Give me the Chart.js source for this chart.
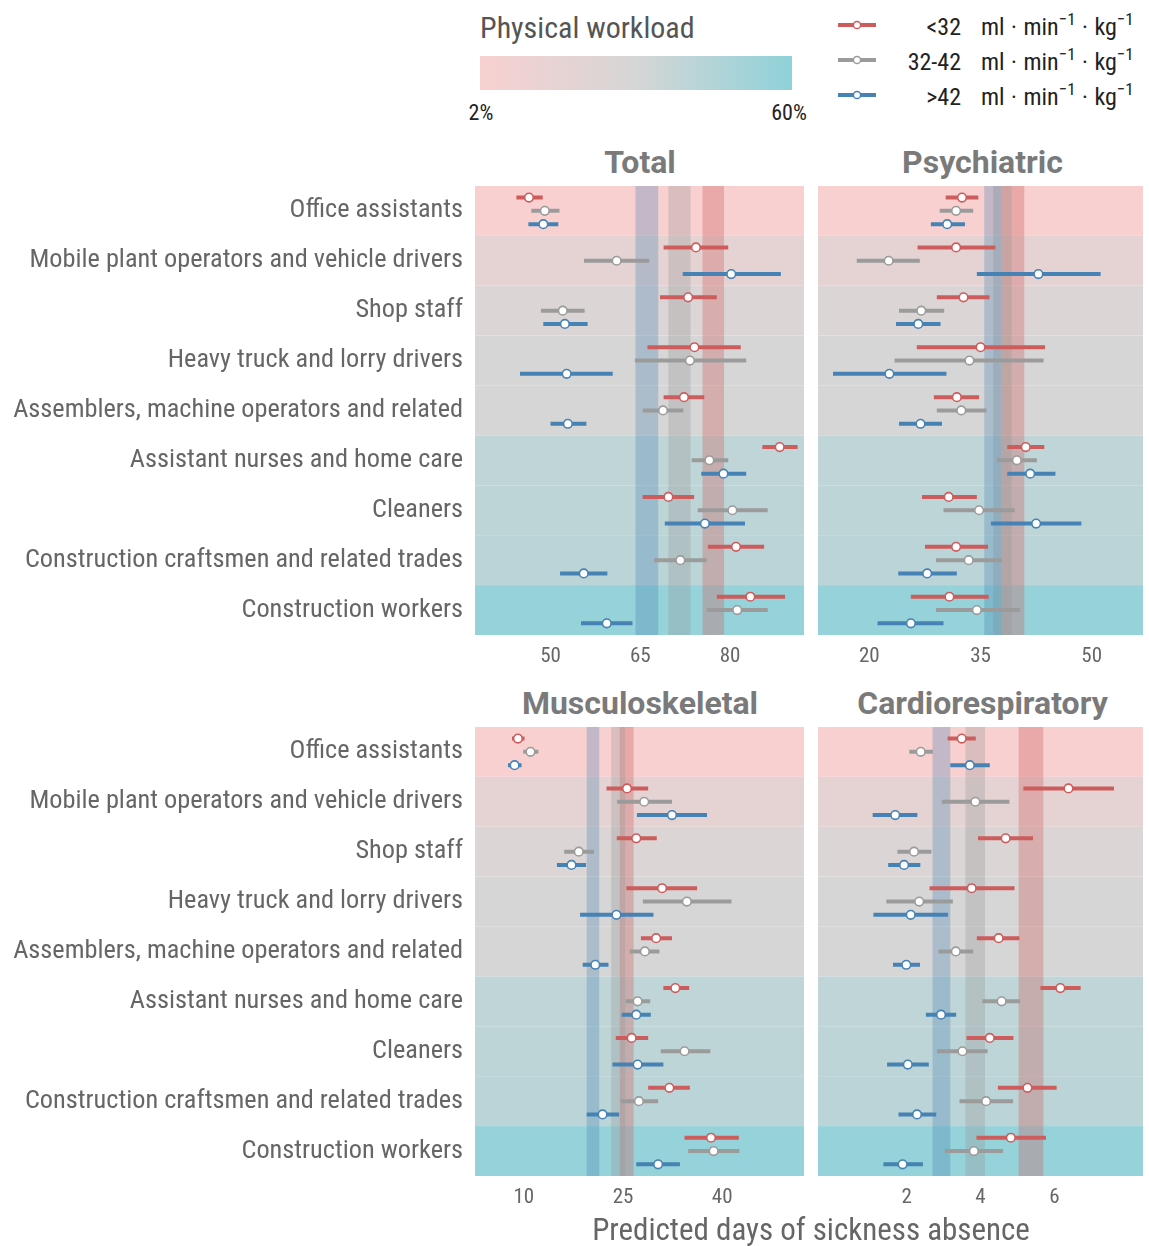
<!DOCTYPE html>
<html>
<head>
<meta charset="utf-8">
<script src="https://cdn.jsdelivr.net/npm/chart.js@4.4.1/dist/chart.umd.min.js"></script>
<style>
html,body{margin:0;padding:0;background:#fff;}
#root{position:relative;width:1149px;height:1246px;overflow:hidden;}
.t{position:absolute;white-space:nowrap;}
canvas{position:absolute;}
.ptitle{font-family:Roboto,"Liberation Sans",sans-serif;font-weight:bold;font-size:32px;color:#7a7a7a;text-align:center;width:330px;line-height:40px;}
.leg{font-size:24px;color:#222;line-height:30px;}
.sup{font-size:17px;position:relative;top:-10px;}
</style>
</head>
<body>
<div id="root">
  <div class="t" style="left:480px;top:9px;font-size:30px;color:#555;line-height:38px;">Physical workload</div>
  <div class="t" id="gradBar" style="left:480px;top:56px;width:312px;height:34px;"></div>
  <div class="t" style="left:459px;top:98px;width:44px;text-align:center;font-size:22px;color:#222;line-height:30px;">2%</div>
  <div class="t" style="left:762px;top:98px;width:54px;text-align:center;font-size:22px;color:#222;line-height:30px;">60%</div>
  <svg class="t" style="left:830px;top:0px;" width="60" height="120" id="legSvg"></svg>
  <div id="legText"></div>

  <div class="t ptitle" style="left:475px;top:142px;">Total</div>
  <div class="t ptitle" style="left:818px;top:142px;width:329px;">Psychiatric</div>
  <div class="t ptitle" style="left:475px;top:683px;">Musculoskeletal</div>
  <div class="t ptitle" style="left:818px;top:683px;width:329px;">Cardiorespiratory</div>

  <canvas id="cTL" width="810" height="500" style="left:0px;top:180px;"></canvas>
  <canvas id="cTR" width="337" height="500" style="left:812px;top:180px;"></canvas>
  <canvas id="cBL" width="810" height="500" style="left:0px;top:721px;"></canvas>
  <canvas id="cBR" width="337" height="500" style="left:812px;top:721px;"></canvas>

  <div class="t" id="axTitle" style="left:475px;top:1211px;width:672px;text-align:center;font-size:31px;color:#666;line-height:38px;">Predicted days of sickness absence</div>
</div>
<script>
// ---------------- DATA ----------------
const categories = [
  "Office assistants",
  "Mobile plant operators and vehicle drivers",
  "Shop staff",
  "Heavy truck and lorry drivers",
  "Assemblers, machine operators and related",
  "Assistant nurses and home care",
  "Cleaners",
  "Construction craftsmen and related trades",
  "Construction workers"
];
const workload = [2, 18, 26, 31, 30, 40, 41, 42, 57];   // physical workload (%)
const seriesNames = ["<32", "32-42", ">42"];

// Total
const totalTicks = [50, 65, 80];
const totalRed    = [46.4, 74.3, 73.0, 74.05, 72.3, 88.3, 69.7, 81.0, 83.4];
const totalRedLo  = [44.3, 68.9, 68.3, 66.2, 68.9, 85.4, 65.4, 76.3, 77.8];
const totalRedHi  = [48.7, 79.7, 77.8, 81.8, 75.7, 91.3, 74.0, 85.7, 89.2];
const totalGray   = [49.05, 61.05, 52.05, 73.3, 68.8, 76.55, 80.4, 71.7, 81.2];
const totalGrayLo = [46.8, 55.6, 48.4, 64.1, 65.4, 73.6, 74.6, 67.3, 76.1];
const totalGrayHi = [51.5, 66.5, 55.7, 82.7, 72.2, 79.7, 86.3, 76.1, 86.3];
const totalBlue   = [48.8, 80.2, 52.4, 52.7, 52.9, 78.9, 75.8, 55.55, 59.4];
const totalBlueLo = [46.3, 72.1, 48.8, 44.9, 50.0, 75.2, 69.1, 51.6, 55.1];
const totalBlueHi = [51.3, 88.5, 56.2, 60.4, 56.0, 82.7, 82.5, 59.5, 63.7];
const totalOverall = [[75.4, 79.0], [69.7, 73.4], [64.2, 68.0]];

// Psychiatric
const psychTicks = [20, 35, 50];
const psychRed    = [32.5, 31.7, 32.7, 35.0, 31.8, 41.1, 30.7, 31.7, 30.8];
const psychRedLo  = [30.3, 26.5, 29.1, 26.4, 28.7, 38.6, 27.1, 27.5, 25.6];
const psychRedHi  = [34.7, 37.0, 36.2, 43.7, 34.8, 43.6, 34.5, 36.0, 36.1];
const psychGray   = [31.7, 22.6, 27.0, 33.5, 32.4, 39.9, 34.8, 33.4, 34.5];
const psychGrayLo = [29.5, 18.3, 24.0, 23.4, 29.1, 37.2, 30.0, 29.0, 29.0];
const psychGrayHi = [34.0, 26.8, 30.1, 43.5, 35.8, 42.6, 39.6, 37.9, 40.3];
const psychBlue   = [30.5, 42.8, 26.6, 22.7, 26.9, 41.7, 42.5, 27.8, 25.6];
const psychBlueLo = [28.3, 34.5, 23.6, 15.1, 24.0, 38.6, 36.4, 23.9, 21.1];
const psychBlueHi = [32.9, 51.2, 29.6, 30.4, 29.8, 45.1, 48.6, 31.8, 30.0];
const psychOverall = [[37.8, 40.9], [36.7, 39.2], [35.5, 37.8]];

// Musculoskeletal
const muscTicks = [10, 25, 40];
const muscRed    = [9.1, 25.6, 27.0, 30.9, 30.0, 32.9, 26.3, 32.0, 38.3];
const muscRedLo  = [8.2, 22.5, 24.05, 25.5, 27.7, 31.1, 23.9, 28.8, 34.3];
const muscRedHi  = [10.1, 28.8, 30.1, 36.2, 32.4, 35.0, 28.8, 35.1, 42.5];
const muscGray   = [11.0, 28.2, 18.3, 34.65, 28.3, 27.2, 34.3, 27.4, 38.7];
const muscGrayLo = [9.9, 24.1, 16.1, 28.0, 26.0, 25.4, 30.7, 24.65, 34.85];
const muscGrayHi = [12.2, 32.4, 20.6, 41.4, 30.5, 29.1, 38.2, 30.3, 42.6];
const muscBlue   = [8.6, 32.4, 17.2, 24.0, 20.8, 27.0, 27.2, 21.9, 30.3];
const muscBlueLo = [7.6, 27.1, 15.0, 18.5, 18.9, 24.8, 23.4, 19.5, 27.0];
const muscBlueHi = [9.65, 37.7, 19.4, 29.6, 22.8, 29.2, 31.1, 24.4, 33.6];
const muscOverall = [[24.5, 26.6], [23.2, 25.3], [19.5, 21.4]];

// Cardiorespiratory
const cardioTicks = [2, 4, 6];
const cardioRed    = [3.49, 6.38, 4.68, 3.76, 4.49, 6.16, 4.25, 5.27, 4.82];
const cardioRedLo  = [3.11, 5.16, 3.93, 2.62, 3.90, 5.62, 3.62, 4.47, 3.89];
const cardioRedHi  = [3.87, 7.61, 5.42, 4.92, 5.05, 6.71, 4.89, 6.06, 5.77];
const cardioGray   = [2.38, 3.86, 2.20, 2.34, 3.33, 4.57, 3.51, 4.15, 3.82];
const cardioGrayLo = [2.07, 2.95, 1.75, 1.45, 2.86, 4.05, 2.82, 3.43, 3.03];
const cardioGrayHi = [2.71, 4.78, 2.67, 3.25, 3.80, 5.07, 4.19, 4.88, 4.61];
const cardioBlue   = [3.71, 1.69, 1.93, 2.11, 1.99, 2.93, 2.03, 2.28, 1.89];
const cardioBlueLo = [3.18, 1.08, 1.50, 1.10, 1.63, 2.52, 1.47, 1.78, 1.37];
const cardioBlueHi = [4.25, 2.29, 2.37, 3.12, 2.36, 3.34, 2.60, 2.80, 2.44];
const cardioOverall = [[5.03, 5.70], [3.59, 4.12], [2.70, 3.18]];

// ---------------- STYLE ----------------
const colors = ['#CD5C5C', '#9B9B9B', '#4682B4'];
const bandAlpha = ['rgba(205,92,92,0.33)', 'rgba(150,150,150,0.30)', 'rgba(70,130,180,0.30)'];
const gradStops = [[0, [248, 208, 208]], [0.5, [214, 214, 214]], [1, [142, 210, 217]]];
const rowOffset = [-0.267, 0, 0.267];

function workloadColor(p) {
  let t = Math.max(0, Math.min(1, (p - 2) / 58));
  for (let i = 0; i < gradStops.length - 1; i++) {
    const [t0, c0] = gradStops[i], [t1, c1] = gradStops[i + 1];
    if (t <= t1) {
      const f = (t - t0) / (t1 - t0);
      return 'rgb(' + c0.map((c, k) => Math.round(c + (c1[k] - c) * f)).join(',') + ')';
    }
  }
  return 'rgb(' + gradStops[gradStops.length - 1][1].join(',') + ')';
}
document.getElementById('gradBar').style.background =
  'linear-gradient(to right,' + gradStops.map(s => 'rgb(' + s[1].join(',') + ') ' + (s[0] * 100) + '%').join(',') + ')';

// ---------------- FONT ----------------
function hasFont(n) {
  const c = document.createElement('canvas').getContext('2d');
  const s = 'abcdefghijklmnopqrstuvwxyz ABCDEFGHIJKLM 0123456789';
  c.font = '40px monospace'; const a = c.measureText(s).width;
  c.font = '40px "' + n + '", monospace'; const b = c.measureText(s).width;
  c.font = '40px serif'; const d = c.measureText(s).width;
  c.font = '40px "' + n + '", serif'; const e = c.measureText(s).width;
  return a !== b || d !== e;
}
const FAMILY = ['Roboto Condensed', 'Liberation Sans Narrow', 'DejaVu Sans Condensed', 'Roboto'].find(hasFont) || 'sans-serif';
document.getElementById('root').style.fontFamily = '"' + FAMILY + '", sans-serif';
const mctx = document.createElement('canvas').getContext('2d');
mctx.font = '24px "' + FAMILY + '"';
const longW = mctx.measureText(categories[4]).width;
const labelSize = Math.max(17, Math.min(28, 24 * 450 / longW));
const tickSize = Math.round(labelSize * 0.8);

// ---------------- LEGEND ----------------
(function () {
  const svg = document.getElementById('legSvg');
  const ys = [25, 60, 95];
  let h = '';
  ys.forEach((y, i) => {
    h += '<line x1="8" x2="46" y1="' + y + '" y2="' + y + '" stroke="' + colors[i] + '" stroke-width="4"/>';
    h += '<circle cx="27" cy="' + y + '" r="3.6" fill="#fff" stroke="' + colors[i] + '" stroke-width="1.5"/>';
  });
  svg.innerHTML = h;
  const lt = document.getElementById('legText');
  ys.forEach((y, i) => {
    const a = document.createElement('div');
    a.className = 't leg';
    a.style.cssText = 'left:860px;width:101px;text-align:right;top:' + (y - 13) + 'px;';
    a.textContent = seriesNames[i];
    lt.appendChild(a);
    const b = document.createElement('div');
    b.className = 't leg';
    b.style.cssText = 'left:981px;word-spacing:1px;top:' + (y - 13) + 'px;';
    b.innerHTML = 'ml \u00B7 min<span class="sup">\u22121</span> \u00B7 kg<span class="sup">\u22121</span>';
    lt.appendChild(b);
  });
})();

// ---------------- CHARTS ----------------
const bgPlugin = {
  id: 'bg',
  beforeDatasetsDraw(chart, args, opts) {
    const { ctx, chartArea: a, scales: { x, y } } = chart;
    ctx.save();
    ctx.beginPath(); ctx.rect(a.left, a.top, a.right - a.left, a.bottom - a.top); ctx.clip();
    categories.forEach((c, i) => {
      const y0 = y.getPixelForValue(i - 0.5), y1 = y.getPixelForValue(i + 0.5);
      ctx.fillStyle = workloadColor(workload[i]);
      ctx.fillRect(a.left, Math.min(y0, y1), a.right - a.left, Math.abs(y1 - y0));
    });
    opts.bands.forEach((b, k) => {
      const x0 = x.getPixelForValue(b[0]), x1 = x.getPixelForValue(b[1]);
      ctx.fillStyle = bandAlpha[k];
      ctx.fillRect(x0, a.top, x1 - x0, a.bottom - a.top);
    });
    ctx.restore();
  }
};

function makePanel(id, p) {
  const datasets = [];
  p.est.forEach((arr, k) => {
    datasets.push({
      type: 'line', order: 0,
      data: arr.map((v, i) => ({ x: v, y: i + rowOffset[k] })),
      showLine: false, pointRadius: 4.3, pointHoverRadius: 4.3,
      pointBackgroundColor: '#fff', pointBorderColor: colors[k], pointBorderWidth: 1.6
    });
  });
  p.lo.forEach((arr, k) => {
    const d = [];
    arr.forEach((v, i) => {
      d.push({ x: v, y: i + rowOffset[k] });
      d.push({ x: p.hi[k][i], y: i + rowOffset[k] });
      d.push({ x: null, y: null });
    });
    datasets.push({
      type: 'line', order: 1, data: d, spanGaps: false,
      borderColor: colors[k], borderWidth: 4, borderCapStyle: 'butt',
      pointRadius: 0, tension: 0
    });
  });
  const pad = Object.assign({}, p.pad);
  const ch = new Chart(document.getElementById(id), {
    type: 'line',
    data: { datasets },
    options: {
      responsive: false, animation: false, devicePixelRatio: 1,
      layout: { padding: pad },
      plugins: { legend: { display: false }, tooltip: { enabled: false }, bg: { bands: p.bands } },
      scales: {
        x: {
          type: 'linear', min: p.min, max: p.max,
          afterBuildTicks: s => { s.ticks = p.ticks.map(v => ({ value: v })); },
          afterFit: s => { s.height = 45; s.paddingLeft = 0; s.paddingRight = 0; },
          grid: { display: false, drawTicks: false }, border: { display: false },
          ticks: { color: '#666', padding: 9, maxRotation: 0, font: { family: FAMILY, size: tickSize } }
        },
        y: {
          type: 'linear', min: -0.5, max: 8.5, reverse: true, display: p.showY,
          afterBuildTicks: s => { s.ticks = categories.map((c, i) => ({ value: i })); },
          afterFit: s => { if (p.showY) s.width = 475; s.paddingTop = 0; s.paddingBottom = 0; },
          grid: { display: false, drawTicks: false }, border: { display: false },
          ticks: { color: '#666', padding: 12, autoSkip: false, callback: v => categories[v], font: { family: FAMILY, size: labelSize } }
        }
      }
    },
    plugins: [bgPlugin]
  });
  // correct any layout drift so the plot area lands exactly where wanted
  const a = ch.chartArea, w = p.area;
  const dr = a.right - w.right, db = a.bottom - w.bottom, dt = w.top - a.top;
  const dl = p.showY ? 0 : w.left - a.left;
  if (Math.abs(dr) + Math.abs(db) + Math.abs(dt) + Math.abs(dl) > 0.5) {
    ch.options.layout.padding = { left: pad.left + dl, right: pad.right + dr, top: pad.top + dt, bottom: pad.bottom + db };
    ch.update();
  }
}

const leftArea = { left: 475, right: 805, top: 5, bottom: 455 };
const rightArea = { left: 6, right: 335, top: 5, bottom: 455 };

makePanel('cTL', {
  ticks: totalTicks, min: 37.38, max: 92.38, showY: true, pad: { top: 5, right: 5, left: 0, bottom: 0 }, area: leftArea,
  est: [totalRed, totalGray, totalBlue], lo: [totalRedLo, totalGrayLo, totalBlueLo], hi: [totalRedHi, totalGrayHi, totalBlueHi],
  bands: totalOverall
});
makePanel('cTR', {
  ticks: psychTicks, min: 13.07, max: 56.93, showY: false, pad: { top: 5, right: 2, left: 6, bottom: 0 }, area: rightArea,
  est: [psychRed, psychGray, psychBlue], lo: [psychRedLo, psychGrayLo, psychBlueLo], hi: [psychRedHi, psychGrayHi, psychBlueHi],
  bands: psychOverall
});
makePanel('cBL', {
  ticks: muscTicks, min: 2.61, max: 52.38, showY: true, pad: { top: 5, right: 5, left: 0, bottom: 0 }, area: leftArea,
  est: [muscRed, muscGray, muscBlue], lo: [muscRedLo, muscGrayLo, muscBlueLo], hi: [muscRedHi, muscGrayHi, muscBlueHi],
  bands: muscOverall
});
makePanel('cBR', {
  ticks: cardioTicks, min: -0.40, max: 8.40, showY: false, pad: { top: 5, right: 2, left: 6, bottom: 0 }, area: rightArea,
  est: [cardioRed, cardioGray, cardioBlue], lo: [cardioRedLo, cardioGrayLo, cardioBlueLo], hi: [cardioRedHi, cardioGrayHi, cardioBlueHi],
  bands: cardioOverall
});
</script>
</body>
</html>
